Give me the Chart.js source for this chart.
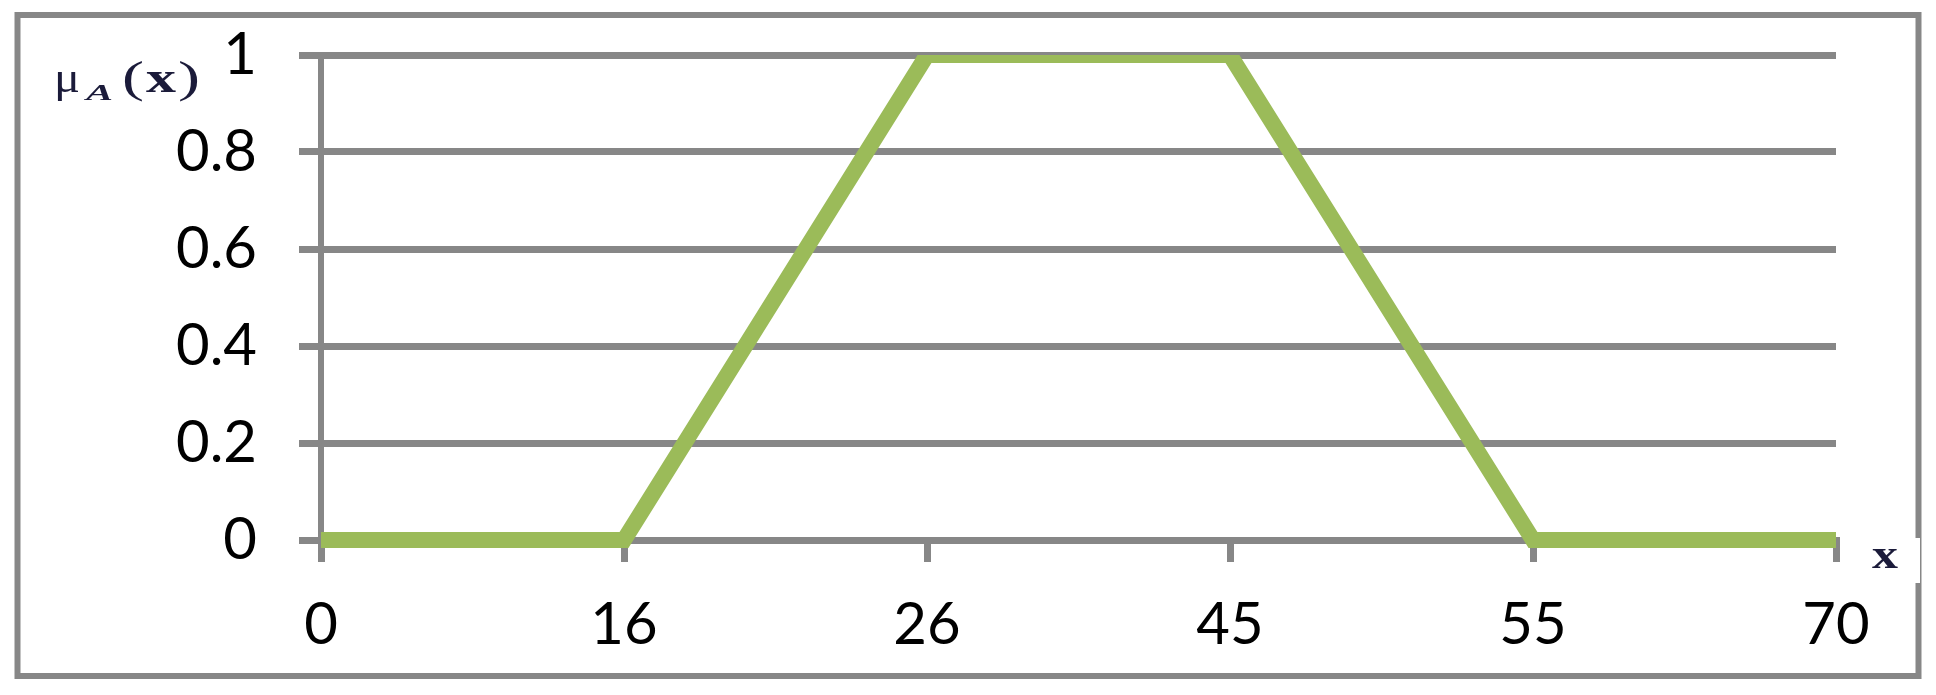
<!DOCTYPE html>
<html>
<head>
<meta charset="utf-8">
<script src="https://cdn.jsdelivr.net/npm/chart.js@4"></script>
<style>
  html, body { margin: 0; padding: 0; background: #ffffff; }
  #wrap { position: relative; width: 1936px; height: 695px; }
</style>
</head>
<body>
<div id="wrap"><canvas id="c"></canvas></div>
<script>
// ---- data ----
const categories = ['0', '16', '26', '45', '55', '70'];
const membership = [0, 0, 1, 1, 0, 0];
const yMin = 0;
const yMax = 1;
const yStep = 0.2;
const yAxisLabel = ['μ', 'A', '(x)'];
const xAxisLabel = 'x';

const GREY = '#878787';
const GREEN = '#9BBB59';
const FONT = 'Lato, "Open Sans", sans-serif';

function fitGlyph(ctx, text, font, left, right, baseline) {
  ctx.font = font;
  const w = ctx.measureText(text).width;
  const target = right - left;
  ctx.save();
  ctx.translate(left, baseline);
  ctx.scale(target / w, 1);
  ctx.fillText(text, 0, 0);
  ctx.restore();
}

const decor = {
  id: 'decor',
  beforeDraw(chart) {
    const ctx = chart.ctx;
    ctx.save();
    ctx.fillStyle = '#ffffff';
    ctx.fillRect(0, 0, chart.width, chart.height);
    ctx.strokeStyle = GREY;
    ctx.lineWidth = 6;
    ctx.strokeRect(17.5, 15, 1918.5 - 17.5, 676 - 15);
    ctx.restore();
  },
  afterDraw(chart) {
    const ctx = chart.ctx;
    ctx.save();
    ctx.fillStyle = '#1b1b3a';
    ctx.textBaseline = 'alphabetic';
    // mu_A(x)
    fitGlyph(ctx, yAxisLabel[0], '44px "Liberation Serif", serif', 54, 80, 92);
    fitGlyph(ctx, yAxisLabel[1], 'italic bold 23px "Liberation Serif", serif', 86, 113, 100);
    fitGlyph(ctx, '(', '44px "Liberation Serif", serif', 122, 144, 92);
    fitGlyph(ctx, yAxisLabel[2].charAt(1), 'bold 44px "Liberation Serif", serif', 146, 176, 92);
    fitGlyph(ctx, ')', '44px "Liberation Serif", serif', 178, 200, 92);
    // x label with white box over border
    ctx.fillStyle = '#ffffff';
    ctx.fillRect(1860, 538, 60, 45);
    ctx.fillStyle = '#1b1b3a';
    fitGlyph(ctx, xAxisLabel, 'bold 40px "Liberation Serif", serif', 1872, 1898, 568);
    ctx.restore();
  }
};

function zeroPad(scale) {
  scale.paddingTop = 0;
  scale.paddingBottom = 0;
  scale.paddingLeft = 0;
  scale.paddingRight = 0;
}

new Chart(document.getElementById('c'), {
  type: 'line',
  data: {
    labels: categories,
    datasets: [{
      data: membership,
      borderColor: GREEN,
      backgroundColor: GREEN,
      borderWidth: 16,
      pointRadius: 0,
      pointHoverRadius: 0,
      tension: 0,
      fill: false,
      borderJoinStyle: 'miter',
      borderCapStyle: 'butt',
      clip: { left: 0, top: 0, right: 10, bottom: 10 }
    }]
  },
  options: {
    responsive: true,
    maintainAspectRatio: false,
    animation: false,
    events: [],
    layout: { padding: { top: 55, right: 100, left: 0, bottom: 0 } },
    plugins: {
      legend: { display: false },
      tooltip: { enabled: false },
      title: { display: false }
    },
    scales: {
      x: {
        type: 'category',
        offset: false,
        afterFit(scale) { scale.height = 155; zeroPad(scale); },
        grid: {
          display: true,
          drawOnChartArea: false,
          drawTicks: true,
          tickLength: 22,
          lineWidth: 7,
          color: GREY
        },
        border: { display: true, width: 7, color: GREY },
        ticks: {
          font: { family: FONT, size: 58 },
          color: '#000000',
          padding: 28,
          maxRotation: 0,
          autoSkip: false
        }
      },
      y: {
        min: yMin,
        max: yMax,
        afterFit(scale) { scale.width = 321; zeroPad(scale); },
        grid: {
          display: true,
          drawOnChartArea: true,
          drawTicks: true,
          tickLength: 22,
          lineWidth: 7,
          color: GREY
        },
        border: { display: true, width: 6, color: GREY },
        ticks: {
          stepSize: yStep,
          font: { family: FONT, size: 58 },
          color: '#000000',
          padding: 42,
          callback: (v) => String(Number(Number(v).toFixed(1)))
        }
      }
    }
  },
  plugins: [decor]
});
</script>
</body>
</html>
